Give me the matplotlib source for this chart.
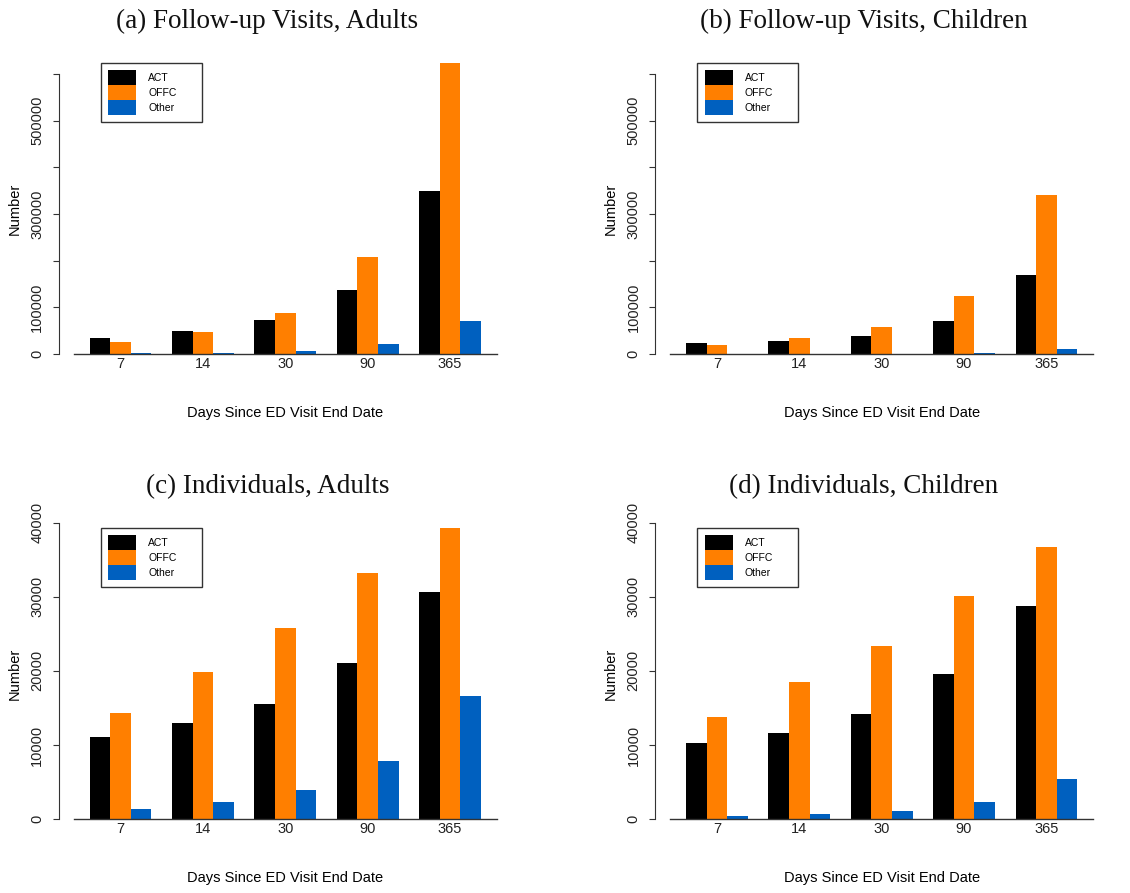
import matplotlib
matplotlib.use("Agg")
import matplotlib.pyplot as plt
import numpy as np

plt.rcParams['font.family'] = ['Liberation Sans', 'DejaVu Sans']

days = ["7", "14", "30", "90", "365"]
series = ["ACT", "OFFC", "Other"]
colores = ["#000000", "#FF7F00", "#0060BF"]

# (a) visitas de seguimiento, adultos
visits_adults_act = [34300, 49300, 72900, 137100, 349300]
visits_adults_offc = [25700, 47100, 87900, 207900, 623600]
visits_adults_other = [2000, 2000, 6400, 21400, 70700]
# (b) visitas de seguimiento, niños
visits_children_act = [23600, 27900, 38600, 70700, 169300]
visits_children_offc = [19300, 34300, 57900, 124300, 340700]
visits_children_other = [400, 400, 800, 2900, 10700]
# (c) individuos, adultos
indiv_adults_act = [11100, 12990, 15550, 21080, 30650]
indiv_adults_offc = [14340, 19870, 25800, 33210, 39280]
indiv_adults_other = [1390, 2340, 3960, 7870, 16630]
# (d) individuos, niños
indiv_children_act = [10290, 11640, 14200, 19600, 28760]
indiv_children_offc = [13800, 18520, 23370, 30110, 36720]
indiv_children_other = [450, 720, 1120, 2340, 5440]

visits_ticks = [0, 100000, 200000, 300000, 400000, 500000, 600000]
visits_labels = ["0", "100000", "", "300000", "", "500000", ""]
indiv_ticks = [0, 10000, 20000, 30000, 40000]
indiv_labels = ["0", "10000", "20000", "30000", "40000"]

titles = ["(a) Follow-up Visits, Adults", "(b) Follow-up Visits, Children",
          "(c) Individuals, Adults", "(d) Individuals, Children"]

W, H = 1130, 893
fig = plt.figure(figsize=(W / 100, H / 100), dpi=100)


def px_axes(left, top, width, height):
    return fig.add_axes([left / W, 1 - (top + height) / H, width / W, height / H])


def panel(ax, data, ymax, ticks, labels):
    n = len(days)
    for k, vals in enumerate(data):
        x = 1 + 4 * np.arange(n) + k
        ax.bar(x, vals, width=1.0, align="edge", color=colores[k], label=series[k], linewidth=0)
    ax.set_xlim(0.24, 20.76)
    ax.set_ylim(-0.04 * ymax, 1.04 * ymax)
    # spines primero: set_position reinicia los ticks
    for s in ["top", "right"]:
        ax.spines[s].set_visible(False)
    ax.spines["left"].set_position(("outward", 11))
    ax.spines["left"].set_bounds(ticks[0], ticks[-1])
    ax.spines["left"].set_color("#333333")
    ax.spines["left"].set_linewidth(0.8)
    ax.spines["bottom"].set_position(("data", 0))
    ax.spines["bottom"].set_color("#333333")
    ax.spines["bottom"].set_linewidth(1.0)

    ax.tick_params(axis="x", length=0, pad=2)
    ax.tick_params(axis="y", length=4, width=0.8, pad=6.5, color="#333333")
    ax.set_xticks(4 * np.arange(n) + 2.5)
    ax.set_xticklabels(days, fontsize=10.5, color="#222222")
    ax.set_yticks(ticks)
    ax.set_yticklabels(labels, fontsize=10.5, color="#222222", rotation=90, va="center", ha="right")

    ax.set_xlabel("Days Since ED Visit End Date", fontsize=10.5, va="center")
    ax.xaxis.set_label_coords(0.5, -0.151)
    ax.set_ylabel("Number", fontsize=10.5, va="center")
    ax.yaxis.set_label_coords(-0.141, 0.5)
    leg = ax.legend(loc="upper left", bbox_to_anchor=(0.0639, 0.9634, 0.238, 0.0), mode="expand",
                    fontsize=7.5, handlelength=2.7, handleheight=1.84, labelspacing=0.0,
                    handletextpad=1.15, borderpad=0.7, borderaxespad=0, fancybox=False,
                    framealpha=1, edgecolor="#333333")
    leg.get_frame().set_linewidth(1.0)


top_max = max(visits_adults_offc + visits_children_offc)
bot_max = max(indiv_adults_offc + indiv_children_offc)

ax_a = px_axes(74, 51.3, 422.7, 314.4)
panel(ax_a, [visits_adults_act, visits_adults_offc, visits_adults_other], top_max, visits_ticks, visits_labels)
ax_b = px_axes(670.3, 51.3, 422.7, 314.4)
panel(ax_b, [visits_children_act, visits_children_offc, visits_children_other], top_max, visits_ticks, visits_labels)
ax_c = px_axes(74, 516.3, 422.7, 314.4)
panel(ax_c, [indiv_adults_act, indiv_adults_offc, indiv_adults_other], bot_max, indiv_ticks, indiv_labels)
ax_d = px_axes(670.3, 516.3, 422.7, 314.4)
panel(ax_d, [indiv_children_act, indiv_children_offc, indiv_children_other], bot_max, indiv_ticks, indiv_labels)

title_pos = [(267.5, 28.3), (864, 28.3), (267.5, 493.3), (864, 493.3)]
for t, (x, y) in zip(titles, title_pos):
    fig.text(x / W, 1 - y / H, t, ha="center", va="baseline", fontsize=19.5,
             family=["Liberation Serif", "DejaVu Serif"], color="#111111")

fig.savefig("out.png", dpi=100)
